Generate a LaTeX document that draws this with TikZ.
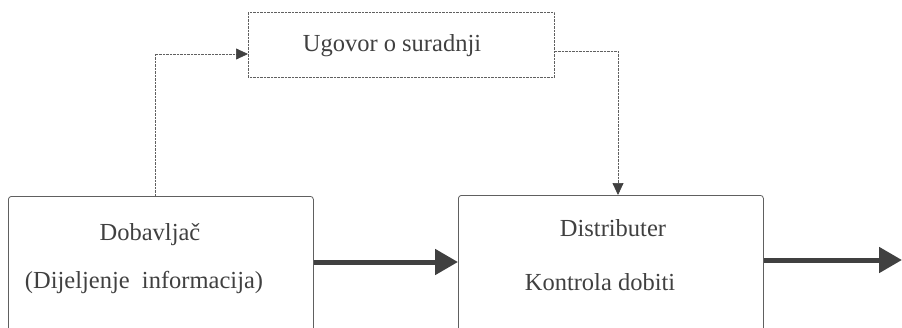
\documentclass[tikz,border=0pt]{standalone}
\usepackage{fontspec}
\setmainfont{Liberation Serif}
\usetikzlibrary{arrows.meta}
\definecolor{ink}{HTML}{404040}
\definecolor{frame}{HTML}{606060}
\begin{document}
\begin{tikzpicture}[x=1pt,y=-1pt,
  boxshape/.style={draw=frame,line width=0.8pt,rounded corners=3pt,inner sep=0pt,anchor=north west},
  dotbox/.style={draw=frame,line width=0.7pt,dash pattern=on 0.8pt off 0.6pt,inner sep=0pt,anchor=north west},
  lbl/.style={text=ink,font=\fontsize{24.5}{29}\selectfont,inner sep=0pt},
  thick arrow/.style={draw=ink,line width=5pt,-{Triangle[length=23pt,width=25pt]}},
  thin arrow/.style={draw=frame,line width=0.7pt,dash pattern=on 0.8pt off 0.6pt,-{Triangle[length=12pt,width=11pt,color=ink]}}]
\useasboundingbox (0,0) rectangle (902,327);
\clip (0,0) rectangle (902,327);
\node[dotbox,minimum width=306pt,minimum height=65pt] (ug) at (248,12) {};
\node[boxshape,minimum width=305pt,minimum height=160pt] (dob) at (8,196) {};
\node[boxshape,minimum width=305pt,minimum height=160pt] (dis) at (458,195) {};
\node[lbl] (ugt) at (392,46) {Ugovor o suradnji};
\node[lbl] (dobt) at (150,235) {Dobavljač};
\node[lbl] (dobt2) at (144,282) {(Dijeljenje\ \ informacija)};
\node[lbl] (dist) at (613,228) {Distributer};
\node[lbl] (dist2) at (600,282) {Kontrola dobiti};
\coordinate (lcorner) at (155,54);
\coordinate (rcorner) at (618,51);
\coordinate (outend) at (902,260);
\draw[thin arrow] (dob.north west -| lcorner) -- (lcorner) -- (lcorner -| ug.west);
\draw[thin arrow] (rcorner -| ug.east) -- (rcorner) -- (rcorner |- dis.north);
\draw[thick arrow] (dob.east |- 0,262) -- (dis.west |- 0,262);
\draw[thick arrow] (dis.east |- outend) -- (outend);
\end{tikzpicture}
\end{document}
